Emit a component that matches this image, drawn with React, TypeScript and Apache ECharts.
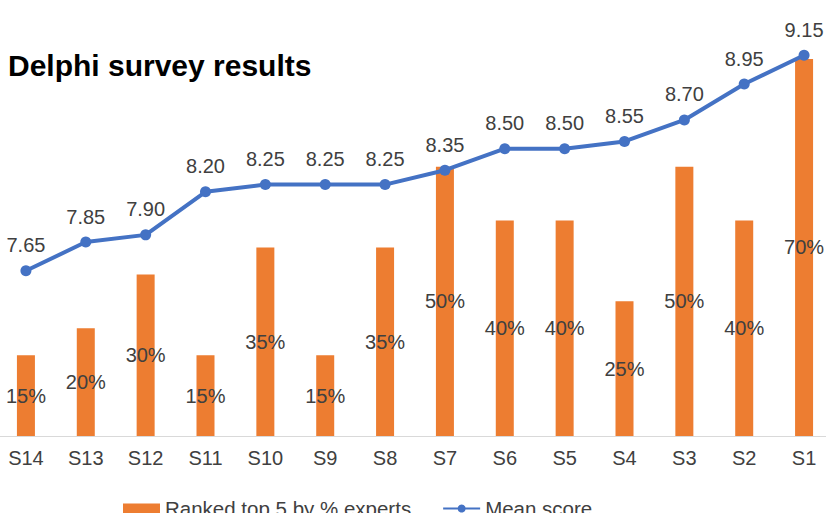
import React, { useEffect, useRef } from "react";
import * as echarts from "echarts";

const categories = ["S14", "S13", "S12", "S11", "S10", "S9", "S8", "S7", "S6", "S5", "S4", "S3", "S2", "S1"];
const rankedTop5 = [0.15, 0.2, 0.3, 0.15, 0.35, 0.15, 0.35, 0.5, 0.4, 0.4, 0.25, 0.5, 0.4, 0.7];
const meanScore = [7.65, 7.85, 7.9, 8.2, 8.25, 8.25, 8.25, 8.35, 8.5, 8.5, 8.55, 8.7, 8.95, 9.15];
const titleText = "Delphi survey results";
const barName = "Ranked top 5 by % experts";
const lineName = "Mean score";

const FONT = "Liberation Sans, Arial, sans-serif";
const TXT = "#404040";
const SHIFT = 4;

export default function App() {
  const ref = useRef<HTMLDivElement>(null);
  useEffect(() => {
    if (!ref.current) return;
    const chart = echarts.init(ref.current, undefined, { renderer: "svg" });
    chart.setOption({
      animation: false,
      textStyle: { fontFamily: FONT },
      graphic: [
        {
          type: "text",
          x: 8 + SHIFT,
          y: 65,
          style: {
            text: titleText,
            font: `bold 30px ${FONT}`,
            fill: "#000",
            textVerticalAlign: "middle",
          },
        },
      ],
      legend: {
        left: 118 + SHIFT,
        top: 493,
        itemWidth: 37,
        itemHeight: 10,
        itemGap: 31,
        textStyle: { fontSize: 20.5, color: TXT, fontFamily: FONT },
        data: [
          { name: barName, icon: "rect" },
          { name: lineName },
        ],
      },
      grid: { left: 0, right: 0, top: 5, bottom: 77, containLabel: false },
      xAxis: {
        type: "category",
        data: categories,
        boundaryGap: true,
        axisLine: { lineStyle: { color: "#d9d9d9", width: 1 } },
        axisTick: { show: false },
        axisLabel: { color: TXT, fontSize: 20, margin: 12, fontFamily: FONT },
      },
      yAxis: [
        { type: "value", min: 0, max: 0.8, show: false, splitLine: { show: false } },
        { type: "value", min: 6.5, max: 9.5, show: false, splitLine: { show: false } },
      ],
      series: [
        {
          name: barName,
          type: "bar",
          data: rankedTop5,
          yAxisIndex: 0,
          barWidth: 18,
          itemStyle: { color: "#ED7D31" },
          label: {
            show: true,
            position: "inside",
            color: TXT,
            fontSize: 20,
            fontFamily: FONT,
            formatter: (p: any) => Math.round(p.value * 100) + "%",
          },
        },
        {
          name: lineName,
          type: "line",
          data: meanScore,
          yAxisIndex: 1,
          symbol: "circle",
          symbolSize: 11,
          lineStyle: { color: "#4472C4", width: 4 },
          itemStyle: { color: "#4472C4" },
          label: {
            show: true,
            position: "top",
            distance: 10,
            color: TXT,
            fontSize: 20,
            fontFamily: FONT,
            formatter: (p: any) => p.value.toFixed(2),
          },
        },
      ],
    });
    return () => chart.dispose();
  }, []);
  return (
    <div
      style={{ position: "absolute", left: 0, top: 0, width: 826, height: 513, overflow: "hidden", background: "#fff" }}
    >
      <div
        ref={ref}
        style={{ position: "absolute", left: -SHIFT, top: 0, width: 838, height: 513 }}
      />
    </div>
  );
}
